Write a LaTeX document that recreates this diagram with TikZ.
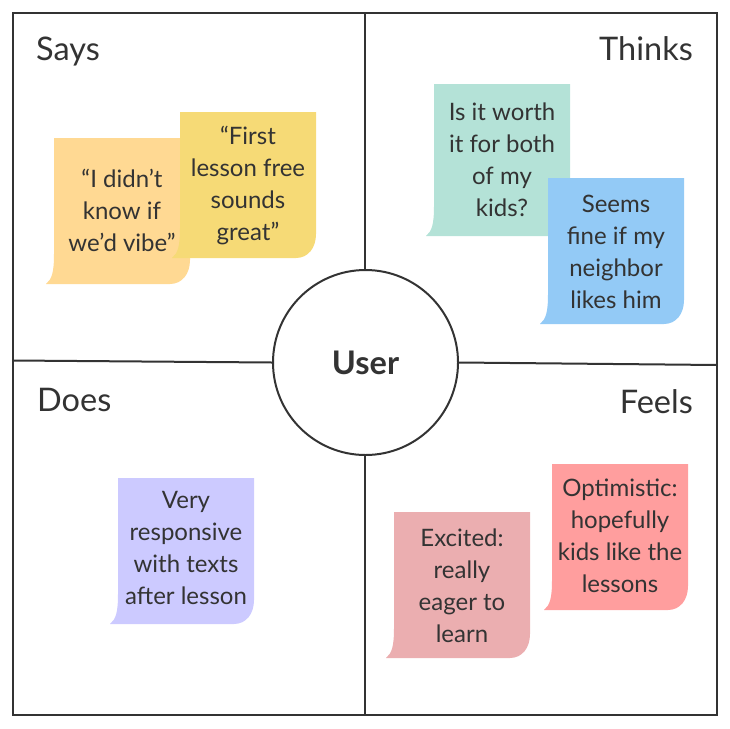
\documentclass[tikz,border=0pt]{standalone}
\usepackage{fontspec}
\setmainfont{Lato}
\definecolor{ink}{HTML}{333333}
\definecolor{noteorange}{HTML}{FFD993}
\definecolor{noteyellow}{HTML}{F6DA76}
\definecolor{notegreen}{HTML}{B4E2D7}
\definecolor{noteblue}{HTML}{93CAF6}
\definecolor{notepurple}{HTML}{CCCAFF}
\definecolor{notepink}{HTML}{EBAEB0}
\definecolor{notered}{HTML}{FF9E9E}
% name, colour, left, top, height, text centre y, text
\newcommand{\stickynote}[7]{
    \fill[#2] (#3,#4) -- (#3+136,#4) -- (#3+136,#4+#5-24)
        .. controls (#3+136,#4+#5-10) and (#3+128,#4+#5) .. (#3+116,#4+#5)
        -- (#3-8,#4+#5)
        .. controls (#3-2,#4+#5-5) and (#3,#4+#5-12) .. (#3,#4+#5-30) -- cycle;
    \node[note] (#1) at (#3+68,#6) {#7};
}
\begin{document}
\begin{tikzpicture}[x=1pt,y=-1pt]
        \tikzstyle{frame}=[draw=ink, line width=2pt, inner sep=0pt, minimum width=704pt, minimum height=702pt]
        \tikzstyle{user}=[circle, draw=ink, line width=2pt, fill=white, inner sep=0pt, minimum size=185pt, font=\fontsize{32.5}{36}\selectfont\bfseries, text=ink]
        \tikzstyle{title}=[inner sep=0pt, font=\fontsize{32.5}{36}\selectfont, text=ink]
        \tikzstyle{note}=[inner sep=0pt, align=center, font=\fontsize{24}{32}\selectfont, text=ink]
        \tikzstyle{divider}=[draw=ink, line width=2pt]
        \useasboundingbox (0,0) rectangle (730,728);
        \node[frame] (box) at (365,364) {};
        \coordinate (lefte) at (13,360.5);
        \coordinate (righte) at (717,365);
        \node[user] (U) at (365.5,362.5) {User};
        \path[divider] (box.north) -- (box.north |- U.north);
        \path[divider] (box.south |- U.south) -- (box.south);
        \path[divider] (lefte) -- (U.west);
        \path[divider] (U.east) -- (righte);
        \node[title, anchor=base west] (says) at (36,60) {Says};
        \node[title, anchor=base east] (thinks) at (693,60) {Thinks};
        \node[title, anchor=base west] (does) at (37,411) {Does};
        \node[title, anchor=base east] (feels) at (693,413) {Feels};
        % back note first where two overlap
        \stickynote{didnt}{noteorange}{54}{138}{146}{210}{“I didn’t\\know if\\we’d vibe”}
        \stickynote{first}{noteyellow}{180}{112}{146}{186}{“First\\lesson free\\sounds\\great”}
        \stickynote{worth}{notegreen}{434}{84}{152}{160}{Is it worth\\it for both\\of my\\kids?}
        \stickynote{seems}{noteblue}{548}{178}{146}{252}{Seems\\fine if my\\neighbor\\likes him}
        \stickynote{texts}{notepurple}{118}{478}{146}{548}{Very\\responsive\\with texts\\after lesson}
        \stickynote{eager}{notepink}{394}{512}{146}{586}{Excited:\\really\\eager to\\learn}
        \stickynote{hope}{notered}{552}{464}{146}{536}{Optimistic:\\hopefully\\kids like the\\lessons}
    \end{tikzpicture}
\end{document}
